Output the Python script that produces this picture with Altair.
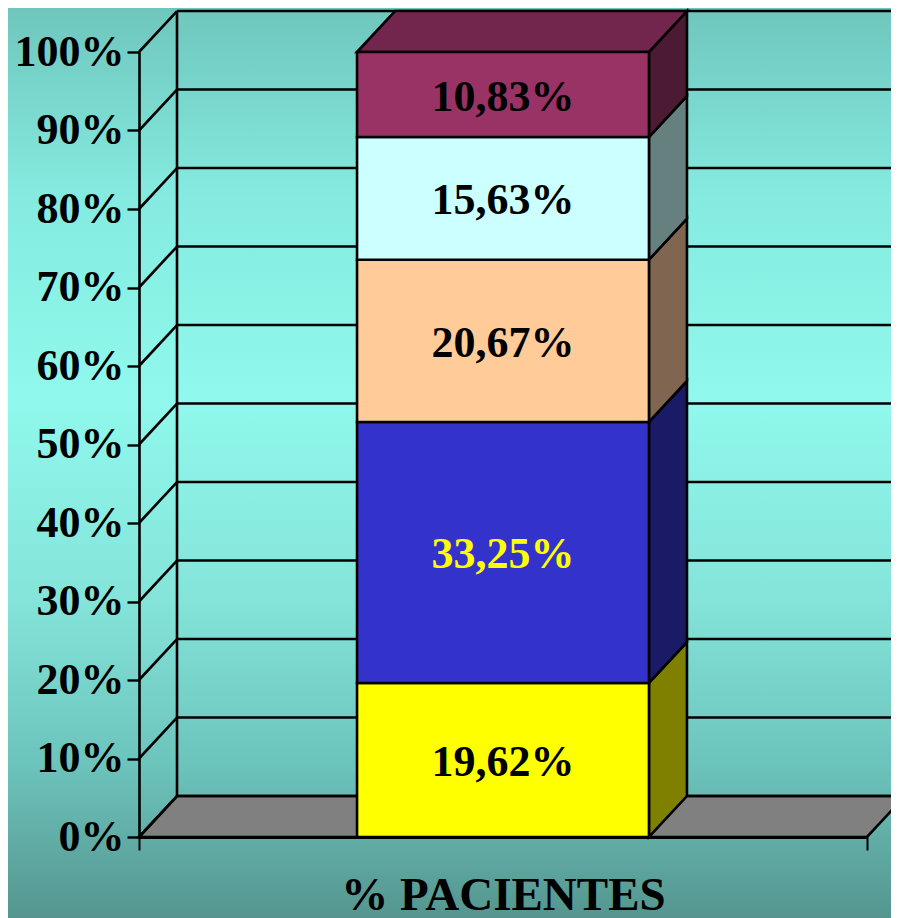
import altair as alt
import pandas as pd

values = [19.62, 33.25, 20.67, 15.63, 10.83]
labels = ["19,62%", "33,25%", "20,67%", "15,63%", "10,83%"]
front_colors = ["#ffff00", "#3333cc", "#ffcc99", "#ccffff", "#993366"]
side_colors = ["#808000", "#1a1a66", "#806650", "#668080", "#4d1a33"]
label_colors = ["#000000", "#ffff00", "#000000", "#000000", "#000000"]
top_color = "#73264d"
floor_color = "#808080"
category = "% PACIENTES"
ticks = list(range(0, 101, 10))

DX = 0.0522   # depth of the 3-D box, x share
DY = 5.22     # depth of the 3-D box, in percent units
BAR_L, BAR_R = 0.2995, 0.7005
FONT = "Liberation Serif"
SW = 2.6

x_axis = alt.Axis(values=[0, 1], labels=False, tickSize=13, tickWidth=2, tickColor="#000000",
                  domainWidth=2.8, domainColor="#000000", grid=False, zindex=1,
                  title=category, titleFont=FONT, titleFontWeight="bold", titleFontSize=47,
                  titleColor="#000000", titlePadding=21)
y_axis = alt.Axis(values=ticks, labelExpr="datum.value + '%'", labelFont=FONT,
                  labelFontWeight="bold", labelFontSize=44, labelColor="#000000",
                  labelPadding=3, tickSize=12, tickWidth=2.4, tickColor="#000000",
                  domainWidth=2.6, domainColor="#000000", grid=False, zindex=1, title=None)
xs = alt.X("x:Q", scale=alt.Scale(domain=[0, 1], nice=False, zero=False), axis=x_axis)
ys = alt.Y("y:Q", scale=alt.Scale(domain=[0, 100], nice=False, zero=False), axis=y_axis)

# background
bg = alt.Chart(pd.DataFrame({"a": [0]})).mark_rect(
    fill=alt.LinearGradient(
        gradient="linear", x1=0, x2=0, y1=0, y2=1,
        stops=[
            alt.GradientStop(color="#6fc6bd", offset=0),
            alt.GradientStop(color="#85ebe0", offset=0.21),
            alt.GradientStop(color="#90f8ec", offset=0.43),
            alt.GradientStop(color="#84e4da", offset=0.65),
            alt.GradientStop(color="#6cc4bc", offset=0.83),
            alt.GradientStop(color="#55958f", offset=1),
        ],
    )
).encode(x=alt.value(-131), x2=alt.value(752), y=alt.value(-44), y2=alt.value(866))

# floor
floor_df = pd.DataFrame({
    "x": [0, DX, 1, 1 + DX],
    "y": [0, DY, DY, DY],
    "y2": [0, 0, 0, DY],
})
floor = alt.Chart(floor_df).mark_area(fill=floor_color, stroke="#000000", strokeWidth=SW).encode(
    x=xs, y=ys, y2="y2:Q")

# back wall lines
grid_df = pd.DataFrame({"x": DX, "x2": 1 + DX, "y": [t + DY for t in ticks]})
grid = alt.Chart(grid_df).mark_rule(color="#000000", strokeWidth=SW).encode(x=xs, x2="x2:Q", y=ys)

back_df = pd.DataFrame({"x": [DX], "y": [DY], "y2": [100 + DY]})
back = alt.Chart(back_df).mark_rule(color="#000000", strokeWidth=SW).encode(x=xs, y=ys, y2="y2:Q")

diag_rows = []
for t in ticks:
    diag_rows += [{"t": t, "x": 0, "y": t}, {"t": t, "x": DX, "y": t + DY}]
diag = alt.Chart(pd.DataFrame(diag_rows)).mark_line(color="#000000", strokeWidth=SW).encode(
    x=xs, y=ys, detail="t:N")

# bar
front_rows, side_rows, text_rows = [], [], []
low = 0.0
for i, v in enumerate(values):
    high = low + v
    front_rows.append({"x": BAR_L, "x2": BAR_R, "y": low, "y2": high, "c": front_colors[i]})
    side_rows += [
        {"s": i, "x": BAR_R, "y": high, "y2": low, "c": side_colors[i]},
        {"s": i, "x": BAR_R + DX, "y": high + DY, "y2": low + DY, "c": side_colors[i]},
    ]
    text_rows.append({"x": 0.5, "y": (low + high) / 2, "t": labels[i], "c": label_colors[i]})
    low = high

side = alt.Chart(pd.DataFrame(side_rows)).mark_area(stroke="#000000", strokeWidth=SW).encode(
    x=xs, y=ys, y2="y2:Q", detail="s:N", fill=alt.Fill("c:N", scale=None))

front = alt.Chart(pd.DataFrame(front_rows)).mark_rect(stroke="#000000", strokeWidth=SW).encode(
    x=xs, x2="x2:Q", y=ys, y2="y2:Q", fill=alt.Fill("c:N", scale=None))

top_df = pd.DataFrame({
    "x": [BAR_L, BAR_L + DX, BAR_R, BAR_R + DX],
    "y": [100, 100 + DY, 100 + DY, 100 + DY],
    "y2": [100, 100, 100, 100 + DY],
})
top = alt.Chart(top_df).mark_area(fill=top_color, stroke="#000000", strokeWidth=SW).encode(
    x=xs, y=ys, y2="y2:Q")

text = alt.Chart(pd.DataFrame(text_rows)).mark_text(
    font=FONT, fontWeight="bold", fontSize=44, baseline="middle", align="center", dy=3
).encode(x=xs, y=ys, text="t:N", color=alt.Color("c:N", scale=None))

chart = alt.layer(bg, floor, grid, back, diag, side, top, front, text).properties(
    width=728, height=785,
    padding={"left": 131, "top": 44, "right": 24, "bottom": 81},
    autosize=alt.AutoSizeParams(type="none"),
).configure_view(stroke=None)

chart.save("out.html", embed_options={"renderer": "svg", "actions": False})
